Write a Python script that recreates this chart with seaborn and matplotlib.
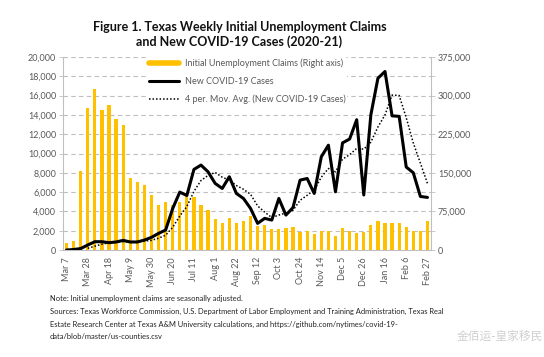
import matplotlib
matplotlib.use("Agg")
import matplotlib.pyplot as plt
import numpy as np
import pandas as pd
import seaborn as sns
from matplotlib.lines import Line2D

# week ending dates, Mar 7 2020 .. Feb 27 2021 (52 weeks)
weeks = pd.date_range("2020-03-07", periods=52, freq="7D")
tick_labels = ["Mar 7", "Mar 28", "Apr 18", "May 9", "May 30", "Jun 20", "Jul 11",
               "Aug 1", "Aug 22", "Sep 12", "Oct 3", "Oct 24", "Nov 14", "Dec 5",
               "Dec 26", "Jan 16", "Feb 6", "Feb 27"]

# initial unemployment claims (right axis)
claims = [13100, 17800, 153800, 275600, 313100, 271900, 281300, 255000, 243800, 140600,
          132200, 125600, 107800, 87200, 92800, 88100, 93800, 110600, 103100, 87200,
          77600, 60000, 51800, 61900, 52500, 56300, 66000, 45900, 48600, 41300,
          41300, 42200, 45000, 34300, 37500, 30900, 36900, 36900, 27800, 42000,
          37500, 33600, 34300, 48600, 56300, 53100, 52500, 51800, 45600, 36900,
          37100, 57000]

# new COVID-19 cases (left axis)
cases = [0, 50, 150, 520, 860, 860, 760, 830, 1000, 830,
         830, 1030, 1310, 1720, 2070, 4300, 6000, 5650, 8350, 8800,
         8100, 6900, 6380, 7590, 5860, 5340, 4310, 2760, 3280, 3100,
         5340, 3620, 4400, 7240, 7410, 5860, 9660, 10860, 6030, 11100,
         11500, 13500, 5700, 14000, 17800, 18500, 13900, 13850, 8600, 8000,
         5550, 5450]

df = pd.DataFrame({"week": np.arange(len(weeks)), "claims": claims, "cases": cases})
df["ma4"] = df["cases"].rolling(4).mean()

sns.set_style("white")
plt.rcParams["font.family"] = ["Lato", "DejaVu Sans"]

gold = "#FFC000"
grey_txt = "#595959"
grid_c = "#BFBFBF"

fig = plt.figure(figsize=(5.44, 3.57), dpi=100)
ax = fig.add_axes([63 / 544, 1 - 250 / 357, 368 / 544, 193 / 357])

# bars on the primary axes, shown with ticks on the right
sns.barplot(data=df, x="week", y="claims", color=gold, width=0.45,
            saturation=1, linewidth=0, ax=ax, zorder=2)
ax.set_ylim(0, 375000)
ax.set_yticks(np.arange(0, 375001, 37500))
ax.set_yticklabels([f"{v:,}" if v % 75000 == 0 else "" for v in range(0, 375001, 37500)])
ax.grid(axis="y", color=grid_c, linestyle=(0, (4, 3)), linewidth=0.8)
ax.set_axisbelow(True)
ax.set_xlim(-0.5, 51.5)
ax.set_xticks(np.arange(0, 52, 3))
ax.set_xticklabels(tick_labels, rotation=90)
ax.set_xlabel("")
ax.set_ylabel("")

# lines on the twin axes, shown with ticks on the left
ax2 = ax.twinx()
sns.lineplot(data=df, x="week", y="cases", color="black", linewidth=2.2, ax=ax2)
sns.lineplot(data=df, x="week", y="ma4", color="black", linewidth=1.1,
             linestyle=(0, (1, 1.3)), ax=ax2)
ax2.set_ylim(0, 20000)
ax2.set_yticks(np.arange(0, 20001, 2000))
ax2.set_yticklabels([f"{v:,}" for v in range(0, 20001, 2000)])
ax2.set_xlim(-0.5, 51.5)
ax2.set_ylabel("")

# twinx resets the sides, so swap them afterwards
ax.yaxis.tick_right()
ax2.yaxis.tick_left()

for a in (ax, ax2):
    for s in a.spines.values():
        s.set_visible(False)
    a.tick_params(colors=grey_txt, labelsize=6.5, length=3, width=0.6)
    a.tick_params(axis="y", color=grid_c, pad=2)
ax.spines["bottom"].set_visible(True)
ax.spines["bottom"].set_color(grid_c)
ax.spines["right"].set_visible(True)
ax.spines["right"].set_color(grid_c)
ax.spines["left"].set_visible(True)
ax.spines["left"].set_color(grid_c)
ax.tick_params(axis="x", color=grid_c, length=3, pad=2)

handles = [Line2D([], [], color=gold, linewidth=4),
           Line2D([], [], color="black", linewidth=2.2),
           Line2D([], [], color="black", linewidth=1.1, linestyle=(0, (1, 1.3)))]
labels = ["Initial Unemployment Claims (Right axis)", "New COVID-19 Cases",
          "4 per. Mov. Avg. (New COVID-19 Cases)"]
leg = ax2.legend(handles, labels, loc="upper left", bbox_to_anchor=(0.228, 1.0),
                 borderaxespad=0, frameon=True, facecolor="white", edgecolor="none",
                 framealpha=1, fontsize=6.5, handlelength=3.4, labelspacing=0.95,
                 borderpad=0.2, handletextpad=0.6)
for t in leg.get_texts():
    t.set_color(grey_txt)

fig.text(0.44, 0.925, "Figure 1. Texas Weekly Initial Unemployment Claims",
         ha="center", va="center", fontsize=9, fontweight="bold", color="#111111")
fig.text(0.44, 0.882, "and New COVID-19 Cases (2020-21)",
         ha="center", va="center", fontsize=9, fontweight="bold", color="#111111")

notes = ["Note: Initial unemployment claims are seasonally adjusted.",
         "Sources: Texas Workforce Commission, U.S. Department of Labor Employment and Training Administration, Texas Real",
         "Estate Research Center at Texas A&M University calculations, and https://github.com/nytimes/covid-19-",
         "data/blob/master/us-counties.csv"]
for i, line in enumerate(notes):
    fig.text(50 / 544, 1 - (299 + 12.5 * i) / 357, line, ha="left", va="center",
             fontsize=5.45, color="#222222")

fig.text(0.84, 1 - 336 / 357, "金佰运-皇家移民", ha="left", va="center", fontsize=8.5,
         color="#d0d0d0", family=["Noto Sans CJK SC", "DejaVu Sans"])

fig.savefig("out.png", dpi=100)
